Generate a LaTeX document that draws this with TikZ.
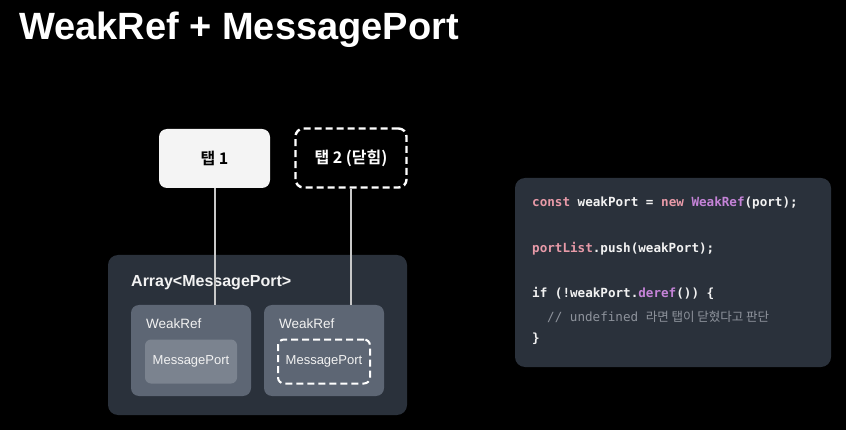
\documentclass[tikz,border=0pt]{standalone}
\usepackage{fontspec}
\setmainfont{Liberation Sans}
\setmonofont{DejaVu Sans Mono}
\newfontfamily\kr{Noto Sans CJK KR}
\newfontfamily\krb{Noto Sans CJK KR Bold}
\definecolor{bgc}{HTML}{000000}
\definecolor{panel}{HTML}{2A313B}
\definecolor{wrc}{HTML}{5D6674}
\definecolor{mpc}{HTML}{7B838F}
\definecolor{tabc}{HTML}{F4F4F4}
\definecolor{linec}{HTML}{C8C8C8}
\definecolor{txt}{HTML}{F2F2F2}
\definecolor{kw}{HTML}{E89AA8}
\definecolor{fn}{HTML}{C583D8}
\definecolor{cmt}{HTML}{8E939C}
\begin{document}
\begin{tikzpicture}[x=1pt,y=-1pt,
  tabbox/.style={rounded corners=8pt, minimum width=111pt, minimum height=59pt, inner sep=0pt},
  panelbox/.style={fill=panel, rounded corners=10pt},
  wrbox/.style={fill=wrc, rounded corners=8pt, minimum width=120pt, minimum height=91pt, inner sep=0pt},
  mpbox/.style={rounded corners=6pt, minimum width=92pt, minimum height=44pt, inner sep=0pt, font=\fontsize{13}{15}\selectfont, text=txt},
  dashbox/.style={draw=white, dash pattern=on 7pt off 4pt},
  conn/.style={draw=linec, line width=2pt},
  label/.style={text=txt, inner sep=0pt, anchor=base west},
  code/.style={inner sep=0pt, anchor=base west, font=\ttfamily\bfseries\fontsize{12.6}{15}\selectfont, text=txt}
]
\useasboundingbox (0,0) rectangle (846,430);
\fill[bgc] (0,0) rectangle (846,430);

% title
\node[label, font=\bfseries\fontsize{38}{44}\selectfont, text=white] (title) at (19,40) {WeakRef + MessagePort};

% tabs
\node[tabbox, fill=tabc, text=black, font=\krb\fontsize{16}{19}\selectfont] (tab1) at (214.5,158.5) {탭 1};
\node[tabbox, dashbox, line width=2.4pt, text=white, font=\krb\fontsize{16}{19}\selectfont] (tab2) at (351,158) {탭 2 (닫힘)};

% array container
\node[panelbox, minimum width=299pt, minimum height=160pt, inner sep=0pt] (arr) at (257.5,335) {};
\node[label, font=\bfseries\fontsize{16}{19}\selectfont] (arrlbl) at (131,287) {Array<MessagePort>};

% weakref boxes
\node[wrbox] (wr1) at (191,350.5) {};
\node[wrbox] (wr2) at (324,350.5) {};
\node[label, font=\fontsize{13.5}{15}\selectfont] (wr1lbl) at (146,328) {WeakRef};
\node[label, font=\fontsize{13.5}{15}\selectfont] (wr2lbl) at (279,328) {WeakRef};

% message ports
\node[mpbox, fill=mpc] (mp1) at (191,361.5) {MessagePort};
\node[mpbox, dashbox, line width=2pt] (mp2) at (324,361.5) {MessagePort};

% connectors
\draw[conn] (tab1.south) -- (tab1.south |- wr1.north);
\draw[conn] (tab2.south) -- (tab2.south |- wr2.north);

% code panel
\node[panelbox, minimum width=316pt, minimum height=189pt, inner sep=0pt] (codebox) at (673,272.5) {};
\node[code] (c1) at (532,207) {\textcolor{kw}{const} weakPort = \textcolor{kw}{new} \textcolor{fn}{WeakRef}(port);};
\node[code] (c2) at (532,253) {\textcolor{kw}{portList}.push(weakPort);};
\node[code] (c3) at (532,298) {if (!weakPort.\textcolor{fn}{deref}()) \{};
\node[code, text=cmt, font=\ttfamily\fontsize{12.6}{15}\selectfont] (c4) at (547,321) {// undefined {\kr\fontsize{12.5}{15}\selectfont 라면 탭이 닫혔다고 판단}};
\node[code] (c5) at (532,342) {\}};
\end{tikzpicture}
\end{document}
